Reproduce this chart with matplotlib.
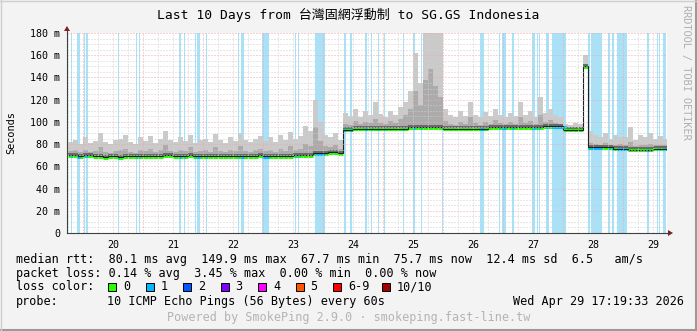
import numpy as np
import matplotlib
matplotlib.use("Agg")
import matplotlib.pyplot as plt
from matplotlib.patches import Rectangle, Polygon
from matplotlib.lines import Line2D

plt.rcParams['font.family'] = ['DejaVu Sans Mono', 'Noto Sans CJK TC']

W, H = 697, 331

# time axis in days of April 2026 (noon of the 20th = 20.5)
t_start = 19.7333
t_end = 29.7333
bin_start = 19.75          # first 2 hour bin (Apr 19 18:00)
bin_width = 1 / 12.0

# median rtt per 2 hour bin (ms)
median_rtt = [
    70, 70, 69,
    70, 70, 69, 69, 68, 69, 69, 68, 69, 69, 69, 69,
    69, 69, 69, 69, 70, 70, 69, 69, 69, 70, 69, 69,
    69, 69, 69, 69, 69, 69, 69, 69, 69, 69, 69, 70,
    69, 69, 69, 69, 69, 69, 70, 70, 70, 70, 72, 72,
    72, 73, 73, 72, 93, 93, 94, 94, 94, 94, 94, 94,
    94, 94, 94, 94, 94, 95, 95, 95, 95, 95, 95, 95,
    94, 94, 94, 94, 94, 94, 94, 94, 94, 95, 95, 95,
    95, 95, 95, 95, 95, 95, 95, 95, 96, 96, 96, 96,
    93, 93, 93, 93, 150, 77, 77, 77, 77, 77, 76, 76,
    76, 75, 75, 75, 75, 75, 76, 76, 76,
]

# darker smoke (inner pings) top per bin
smoke_mid = [
    74, 75, 73,
    75, 73, 74, 77, 73, 72, 74, 75, 76, 73, 72, 75,
    74, 76, 73, 75, 79, 74, 73, 75, 74, 77, 73, 74,
    75, 73, 77, 74, 73, 75, 74, 78, 74, 73, 75, 76,
    74, 75, 73, 76, 74, 78, 75, 76, 80, 78, 95, 83,
    78, 77, 79, 76, 98, 97, 101, 98, 100, 99, 103, 99,
    98, 101, 99, 103, 106, 112, 128, 115, 138, 148, 132, 122,
    101, 98, 97, 100, 98, 104, 99, 97, 100, 98, 102, 99,
    98, 100, 98, 104, 99, 101, 98, 106, 100, 102, 99, 98,
    95, 94, 95, 94, 152, 81, 80, 79, 81, 79, 79, 80,
    79, 82, 78, 79, 79, 80, 79, 79, 79,
]

# light smoke (all pings) top per bin
smoke_max = [
    82, 84, 80,
    86, 81, 83, 90, 82, 80, 84, 85, 88, 82, 80, 86,
    83, 87, 81, 85, 92, 84, 82, 86, 83, 88, 81, 84,
    85, 82, 89, 84, 81, 86, 83, 90, 84, 82, 85, 87,
    83, 86, 82, 88, 84, 91, 85, 87, 96, 92, 120, 100,
    88, 86, 90, 84, 108, 105, 112, 104, 110, 106, 118, 107,
    104, 110, 106, 113, 118, 128, 162, 135, 180, 180, 180, 180,
    112, 106, 104, 110, 105, 118, 106, 104, 109, 105, 112, 106,
    104, 108, 105, 118, 106, 110, 104, 122, 108, 112, 106, 104,
    98, 97, 99, 98, 160, 92, 88, 86, 90, 85, 88, 86,
    86, 95, 84, 88, 86, 90, 85, 87, 85,
]

# packet loss events (start, end) in days
loss_spans = [
    (19.800, 19.817), (19.842, 19.858), (19.900, 19.950), (20.017, 20.033),
    (20.058, 20.075), (20.583, 20.600), (20.883, 20.900), (20.933, 20.950),
    (21.608, 21.625), (21.675, 21.692), (21.867, 21.883), (21.900, 21.950),
    (21.992, 22.008), (22.050, 22.067), (22.575, 22.608), (22.633, 22.683),
    (22.842, 22.858), (22.892, 22.908), (22.983, 23.100), (23.525, 23.542),
    (23.575, 23.592), (23.867, 24.033), (24.358, 24.375), (24.458, 24.475),
    (24.592, 24.608), (24.708, 24.725), (24.800, 24.817), (24.917, 24.933),
    (25.017, 25.033), (25.325, 25.342), (25.492, 25.533), (25.542, 25.558),
    (25.625, 25.642), (25.983, 26.000), (26.617, 26.683), (26.742, 26.758),
    (26.842, 26.858), (26.925, 26.942), (26.983, 27.050), (27.092, 27.108),
    (27.158, 27.175), (27.483, 27.533), (27.567, 27.583), (27.600, 27.617),
    (27.717, 27.767), (27.817, 28.050), (28.417, 28.450), (28.467, 28.650),
    (28.750, 28.783), (28.817, 28.850), (28.900, 29.067), (29.400, 29.433),
    (29.442, 29.458), (29.567, 29.583), (29.600, 29.617), (29.667, 29.717),
]

day_labels = ['20', '21', '22', '23', '24', '25', '26', '27', '28', '29']
y_ticks = [0, 20, 40, 60, 80, 100, 120, 140, 160, 180]

loss_names = ['0', '1', '2', '3', '4', '5', '6-9', '10/10']
loss_colors = ['#26ff00', '#00b8ff', '#0059ff', '#7e00ff', '#ff00ff',
               '#ff5500', '#ff0000', '#a10000']

title = 'Last 10 Days from 台灣固網浮動制 to SG.GS Indonesia'
rtt_line = 'median rtt:  80.1 ms avg  149.9 ms max  67.7 ms min  75.7 ms now  12.4 ms sd  6.5   am/s'
loss_line = 'packet loss: 0.14 % avg  3.45 % max  0.00 % min  0.00 % now'
probe_text = '10 ICMP Echo Pings (56 Bytes) every 60s'
stamp = 'Wed Apr 29 17:19:33 2026'
footer = 'Powered by SmokePing 2.9.0 · smokeping.fast-line.tw'


def fx(x):
    return x / W


def fy(y):
    return 1 - y / H


fig = plt.figure(figsize=(W / 100, H / 100), dpi=100)
fig.patch.set_facecolor('#f3f3f3')

# plot area: x 67..667 px, y 33..233 px
ax = fig.add_axes([fx(67), fy(233), 600 / W, 200 / H])
ax.set_facecolor('white')
ax.set_xlim(t_start, t_end)
ax.set_ylim(0, 180)

n = len(median_rtt)
edges = bin_start + np.arange(n + 1) * bin_width
med = np.array(median_rtt, dtype=float)
mid = np.array(smoke_mid, dtype=float)
top = np.array(smoke_max, dtype=float)

# loss background
for s, e in loss_spans:
    ax.axvspan(s, e, color='#a8e2f8', lw=0, zorder=1)

# smoke
ax.stairs(top, edges, baseline=med, fill=True, color='#cacaca', lw=0, zorder=2)
ax.stairs(mid, edges, baseline=med, fill=True, color='#ababab', lw=0, zorder=3)
ax.stairs(med + 2, edges, baseline=med, fill=True, color='#6a6a6a', lw=0, zorder=3)

# median coloured by loss
ax.hlines(med - 0.6, edges[:-1], edges[1:], color=loss_colors[0], lw=2.2, zorder=4)
for s, e in loss_spans:
    i = int((0.5 * (s + e) - bin_start) // bin_width)
    if 0 <= i < n:
        ax.hlines(med[i] - 0.6, s, e, color=loss_colors[1], lw=2.2, zorder=4)
ax.stairs(med, edges, baseline=None, color='#202020', lw=0.8, zorder=5)

# grid
dots = (0, (1, 2))
for v in range(5, 181, 5):
    major = v % 20 == 0
    ax.axhline(v, color='#f0a8a8' if major else '#d0d0d0', lw=0.72,
               linestyle=dots, zorder=6)
for h in np.arange(np.ceil(t_start * 4) / 4, t_end, 0.25):
    major = abs(h - round(h)) < 1e-6
    ax.axvline(h, color='#f0a8a8' if major else '#d0d0d0', lw=0.72,
               linestyle=dots, zorder=6)

# ticks and labels
ax.set_yticks(y_ticks)
ax.set_yticklabels(['0'] + ['%d m' % v for v in y_ticks[1:]])
ax.set_xticks([int(d) + 0.5 for d in day_labels])
ax.set_xticklabels(day_labels)
ax.tick_params(axis='both', length=0, labelsize=7.2, colors='black', pad=5)
for sp in ['top', 'right']:
    ax.spines[sp].set_visible(False)
for sp in ['left', 'bottom']:
    ax.spines[sp].set_color('#404040')
    ax.spines[sp].set_linewidth(0.8)
    ax.spines[sp].set_zorder(7)

# axis extensions and arrows
fig.add_artist(Line2D([fx(67), fx(67)], [fy(33), fy(30)], color='#404040', lw=0.8))
fig.add_artist(Line2D([fx(667), fx(670)], [fy(233), fy(233)], color='#404040', lw=0.8))
fig.add_artist(Polygon([(fx(64), fy(31)), (fx(70), fy(31)), (fx(67), fy(26))],
                       closed=True, color='#8b1a1a', lw=0))
fig.add_artist(Polygon([(fx(668), fy(230)), (fx(668), fy(236)), (fx(673), fy(233))],
                       closed=True, color='#8b1a1a', lw=0))

fig.text(fx(348), fy(15), title, ha='center', va='center', fontsize=9.4)
fig.text(fx(11), fy(133), 'Seconds', rotation=90, ha='center', va='center', fontsize=7.4)
fig.text(fx(686), fy(5), 'RRDTOOL / TOBI OETIKER', rotation=270, ha='center', va='top',
         fontsize=7.4, color='#b0b0b0')

fs = 8.5
fig.text(fx(16), fy(259), rtt_line, ha='left', va='center', fontsize=fs)
fig.text(fx(16), fy(273), loss_line, ha='left', va='center', fontsize=fs)
fig.text(fx(16), fy(287), 'loss color:', ha='left', va='center', fontsize=fs)
box_x = [108, 145.5, 183, 220.5, 258, 295.5, 333, 382]
for bx, name, c in zip(box_x, loss_names, loss_colors):
    fig.add_artist(Rectangle((fx(bx), fy(291)), 8 / W, 8 / H, facecolor=c,
                             edgecolor='black', lw=0.7))
    fig.text(fx(bx + 15), fy(287), name, ha='left', va='center', fontsize=fs)
fig.text(fx(16), fy(301), 'probe:', ha='left', va='center', fontsize=fs)
fig.text(fx(107), fy(301), probe_text, ha='left', va='center', fontsize=fs)
fig.text(fx(513), fy(301), stamp, ha='left', va='center', fontsize=fs)
fig.text(fx(349), fy(318), footer, ha='center', va='center', fontsize=fs, color='#b4b4b4')

# 3d frame around the image
fig.add_artist(Line2D([0, 1], [fy(330), fy(330)], color='#9a9a9a', lw=1.5))
fig.add_artist(Line2D([fx(696), fx(696)], [0, 1], color='#9a9a9a', lw=1.5))
fig.add_artist(Line2D([0, 1], [fy(0.5), fy(0.5)], color='#cfcfcf', lw=1))
fig.add_artist(Line2D([fx(0.5), fx(0.5)], [0, 1], color='#cfcfcf', lw=1))

fig.savefig('out.png', dpi=100, facecolor=fig.get_facecolor())
